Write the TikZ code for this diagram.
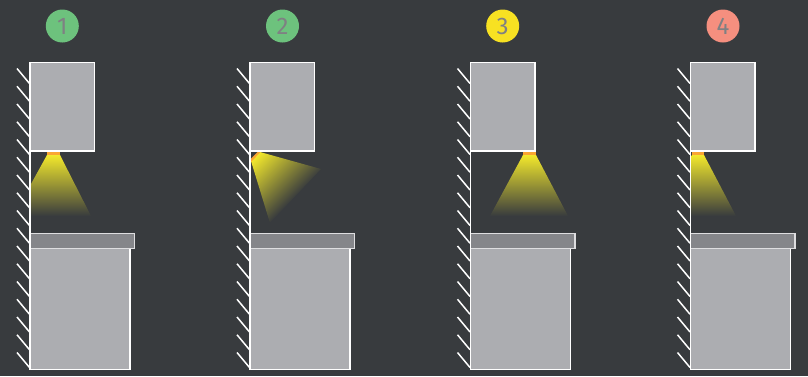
\documentclass[tikz,border=0pt]{standalone}
\usepackage{fontspec}
\setmainfont{Fira Sans}
\definecolor{bgc}{RGB}{56,59,62}
\definecolor{blockc}{RGB}{172,173,177}
\definecolor{slabc}{RGB}{133,134,138}
\definecolor{slabedge}{RGB}{222,222,224}
\definecolor{digitc}{RGB}{127,128,131}
\definecolor{beamc}{RGB}{242,232,44}
\definecolor{emitc}{RGB}{250,165,50}
\definecolor{badgegreen}{RGB}{109,194,125}
\definecolor{badgeyellow}{RGB}{247,225,34}
\definecolor{badgered}{RGB}{245,143,127}
\tikzset{
  x=1pt,y=-1pt,
  block/.style={draw=white,fill=blockc,line width=1.9pt},
  slab/.style={draw=slabedge,fill=slabc,line width=1.9pt},
  wall/.style={draw=white,line width=1.9pt},
  hatchline/.style={draw=white,line width=1.5pt},
  badge/.style={circle,minimum size=33pt,inner sep=0pt,text=digitc,font=\fontsize{24}{24}\selectfont},
  emitter/.style={fill=emitc},
}
\begin{document}
\begin{tikzpicture}
\useasboundingbox (0,0) rectangle (808,376);
\fill[bgc] (0,0) rectangle (808,376);
\foreach \ox in {0,220,440.5,660.5}{
  \begin{scope}[shift={(\ox,0)}]
    \foreach \k in {0,...,16}{
      \draw[hatchline] (17,{68.5+17.75*\k}) -- (29.5,{83.5+17.75*\k});
    }
    \path[block] (30,62.5) rectangle (94.5,151);
    \path[block] (30,248) rectangle (130,369.5);
    \path[slab] (30,233.5) rectangle (134.5,248.5);
    \draw[wall] (30,62) -- (30,370);
  \end{scope}
}
% beam 1
\begin{scope}
  \clip (31,184) -- (47,155) -- (60,155) -- (91,216) -- (31,216) -- cycle;
  \shade[top color=beamc,bottom color=bgc] (10,155) rectangle (120,216);
\end{scope}
\fill[emitter] (47,152.2) rectangle (60,155);
% beam 2
\begin{scope}
  \clip (251,161) -- (260,152) -- (321,169) -- (270,223) -- cycle;
  \begin{scope}[transform canvas={shift={(255.5,156.5)},rotate=-45}]
    \shade[left color=beamc,right color=bgc] (0,-80) rectangle (57,80);
  \end{scope}
\end{scope}
\fill[emitter] (251,158.5) -- (257.5,152) -- (260.5,152) -- (251,162) -- cycle;
% beam 3
\begin{scope}
  \clip (523,155) -- (536,155) -- (568,216) -- (490,216) -- cycle;
  \shade[top color=beamc,bottom color=bgc] (480,155) rectangle (580,216);
\end{scope}
\fill[emitter] (523,152.2) rectangle (536,155);
% beam 4
\begin{scope}
  \clip (691.5,155) -- (704,155) -- (736,216) -- (691.5,216) -- cycle;
  \shade[top color=beamc,bottom color=bgc] (680,155) rectangle (750,216);
\end{scope}
\fill[emitter] (691.5,152.2) rectangle (704,155);
% badges
\node[badge,fill=badgegreen] (b1) at (62.3,26) {1};
\node[badge,fill=badgegreen] (b2) at (282.5,26) {2};
\node[badge,fill=badgeyellow] (b3) at (502.7,26) {3};
\node[badge,fill=badgered] (b4) at (723,26) {4};
\end{tikzpicture}
\end{document}
